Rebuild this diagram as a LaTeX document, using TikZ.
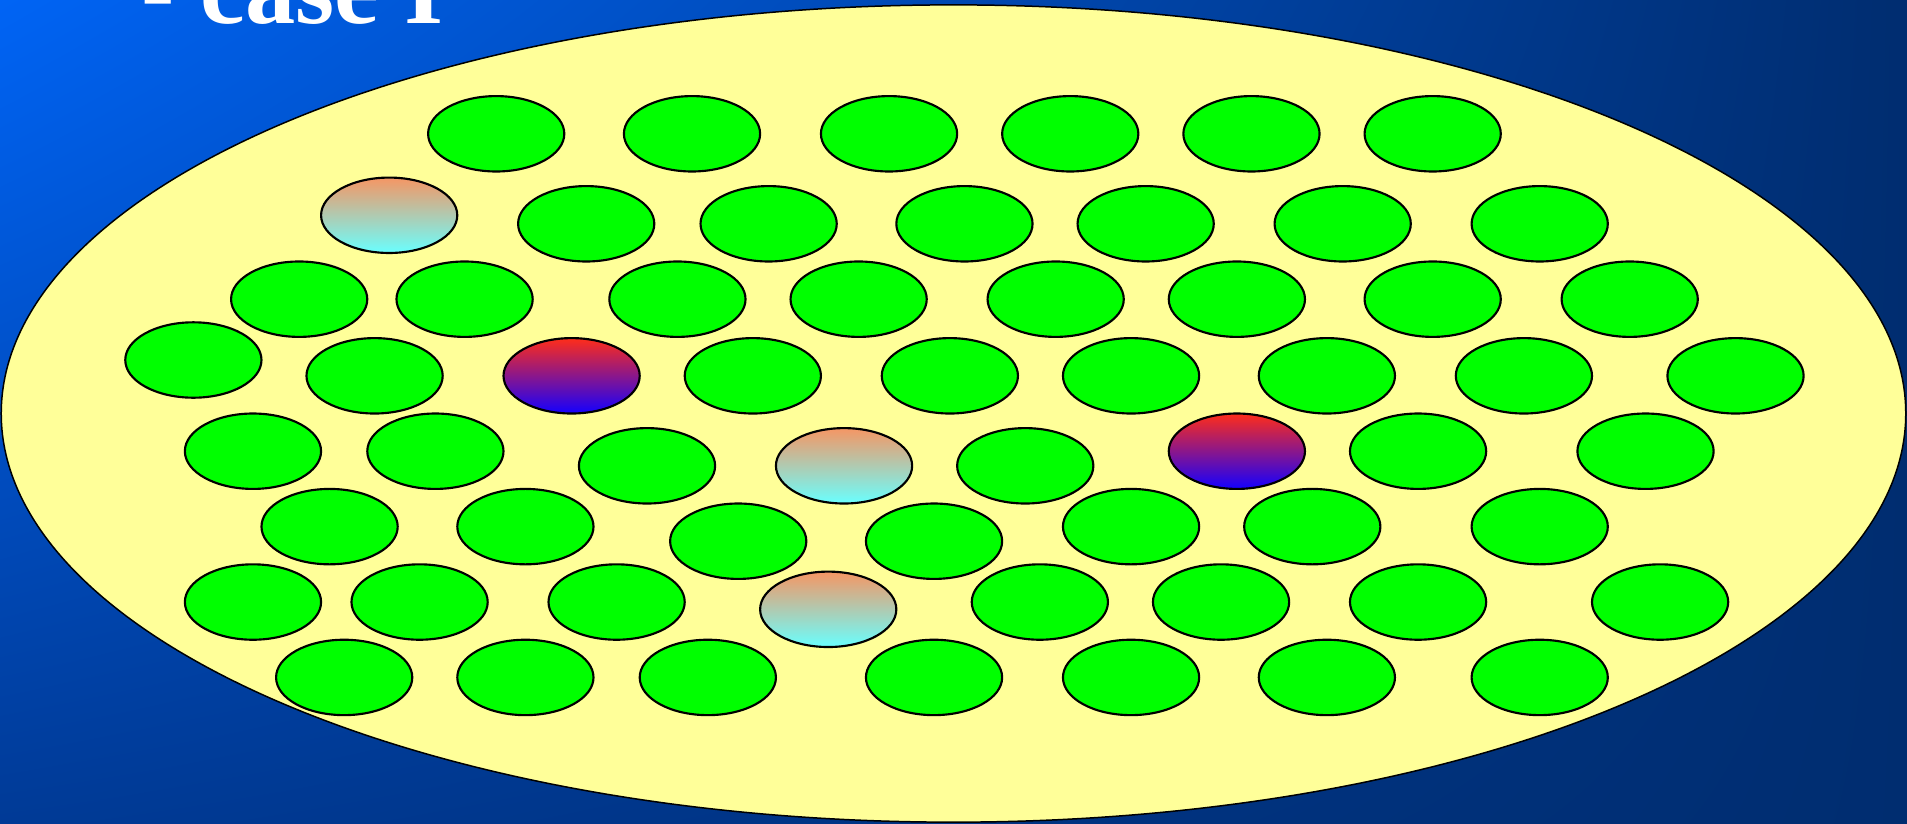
\documentclass[tikz,border=0pt]{standalone}
\usepackage{fontspec}
\usetikzlibrary{shapes.geometric,shadings}
\newfontfamily\titlefont{Liberation Serif}
\definecolor{bgtl}{RGB}{0,100,245}
\definecolor{bgbl}{RGB}{0,58,150}
\definecolor{bgr}{RGB}{0,45,112}
\definecolor{poolyellow}{RGB}{255,255,153}
\definecolor{cellgreen}{RGB}{0,255,0}
\definecolor{warmtop}{RGB}{245,150,100}
\definecolor{warmbot}{RGB}{105,255,255}
\definecolor{hottop}{RGB}{255,45,25}
\definecolor{hotbot}{RGB}{20,0,255}

\begin{document}
\begin{tikzpicture}[x=0.1mm,y=-0.1mm,
  cell/.style={ellipse,draw=black,line width=0.5pt,inner sep=0pt,minimum width=11.2mm,minimum height=6.2mm},
  plain/.style={cell,fill=cellgreen},
  warm/.style={cell,top color=warmtop,bottom color=warmbot},
  hot/.style={cell,top color=hottop,bottom color=hotbot},
  pool/.style={ellipse,draw=black,line width=0.35pt,fill=poolyellow,inner sep=0pt,minimum width=156.6mm,minimum height=67.2mm}]
\useasboundingbox (0,0) rectangle (1568,677);
\shade[upper left=bgtl,lower left=bgbl,upper right=bgr,lower right=bgr] (0,0) rectangle (1568,677);
\node[anchor=base west,text=white,inner sep=0pt,font=\titlefont\bfseries\fontsize{23.5}{28}\selectfont] (title) at (116,19) {- case I};
\node[pool] (pool) at (784,340) {};
% ordinary cells, row by row
\foreach \x/\y [count=\i] in {408/110,569/110,731/110,880/110,1029/110,1178/110,
    482/184,632/184,793/184,942/184,1104/184,1266/184,
    246/246,382/246,557/246,706/246,868/246,1017/246,1178/246,1340/246,
    159/296,308/309,619/309,781/309,930/309,1091/309,1253/309,1427/309,
    208/371,358/371,532/383,843/383,1166/371,1353/371,
    271/433,432/433,607/445,768/445,930/433,1079/433,1266/433,
    208/495,345/495,507/495,855/495,1004/495,1166/495,1365/495,
    283/557,432/557,582/557,768/557,930/557,1091/557,1266/557}
  \node[plain] (c\i) at (\x,\y) {};
% marked cells
\node[warm] (w1) at (320,177) {};
\node[warm] (w2) at (694,383) {};
\node[warm] (w3) at (681,501) {};
\node[hot] (h1) at (470,309) {};
\node[hot] (h2) at (1017,371) {};
\end{tikzpicture}
\end{document}
